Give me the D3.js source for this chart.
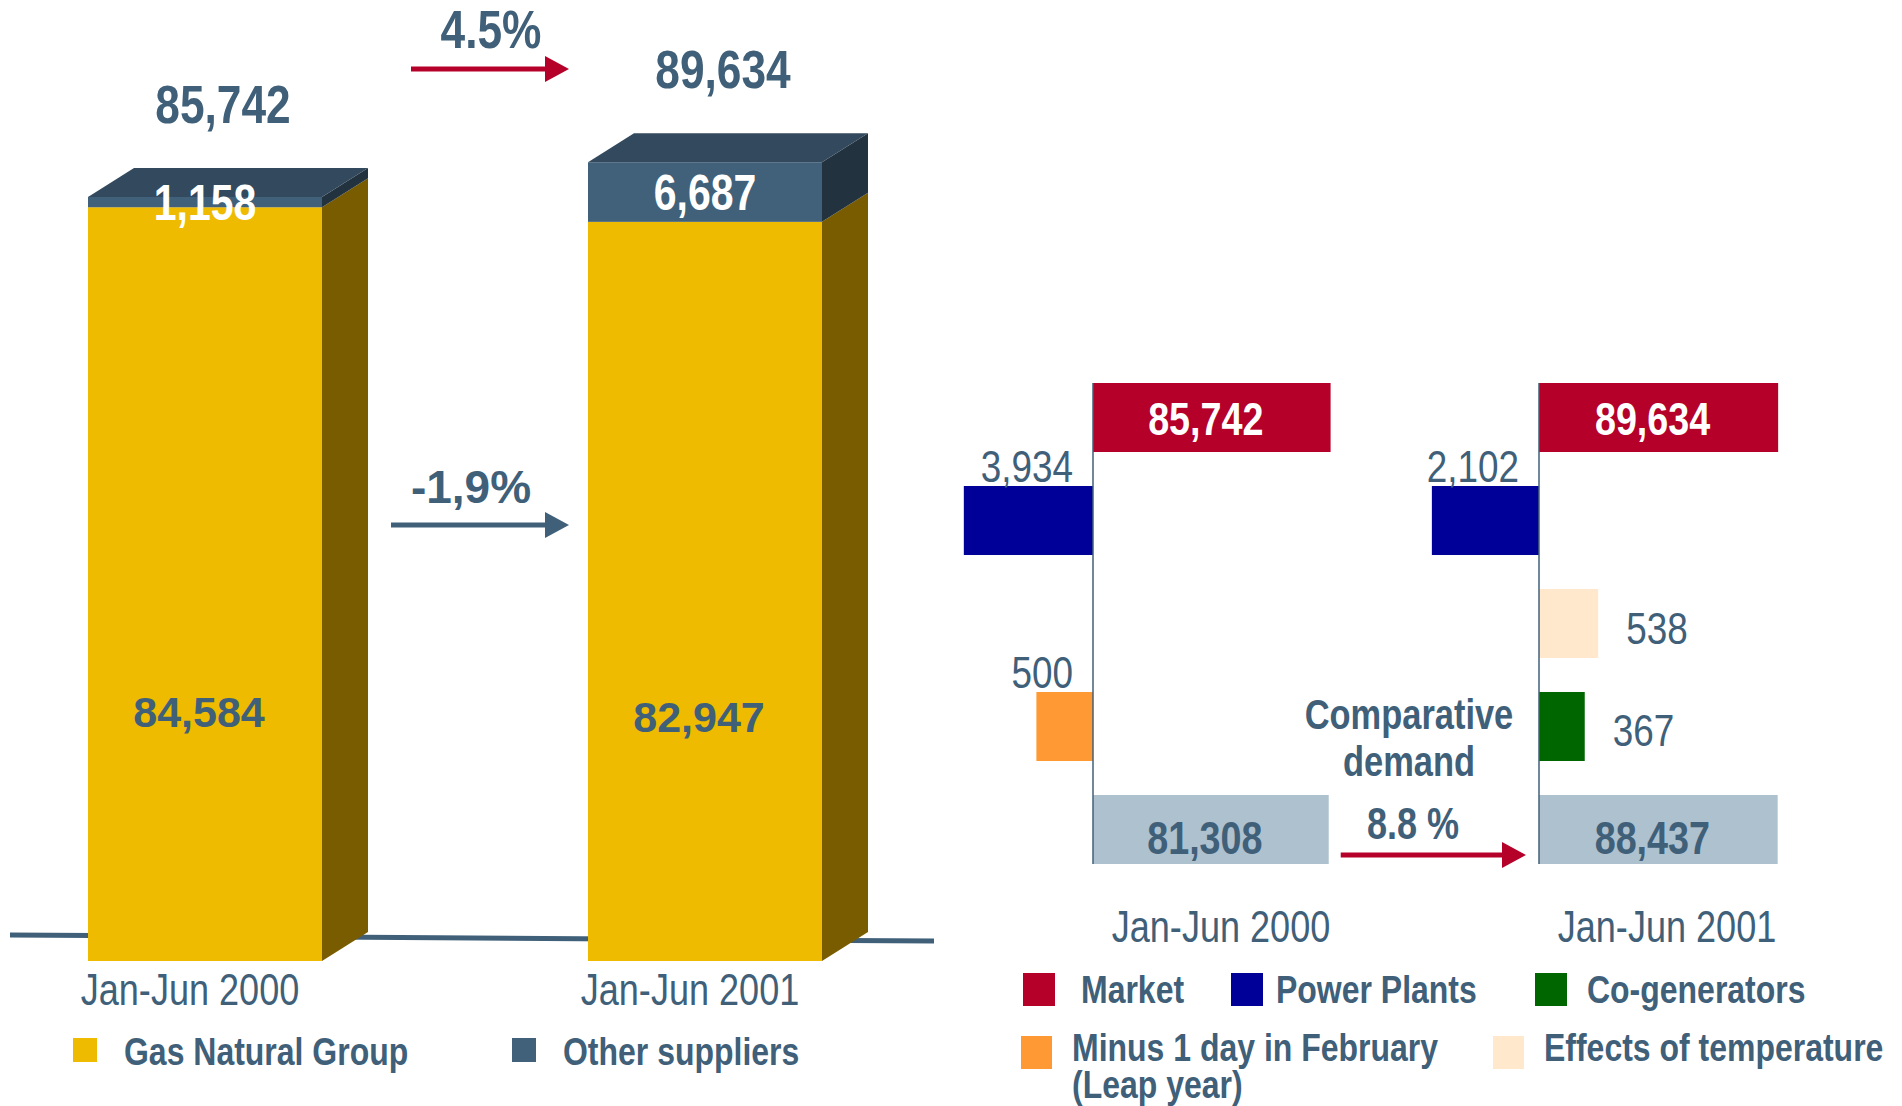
<!DOCTYPE html>
<html>
<head>
<meta charset="utf-8">
<script src="https://cdn.jsdelivr.net/npm/d3@7"></script>
<style>
  body { margin: 0; background: #fff; }
</style>
</head>
<body>
<svg id="chart" width="1902" height="1106"></svg>
<script>
// ---- data ----
const periods = ['Jan-Jun 2000', 'Jan-Jun 2001'];
const gasNatural = [84584, 82947];
const otherSuppliers = [1158, 6687];
const totals = [85742, 89634];
const totalGrowth = '4.5%';
const gasGrowth = '-1,9%';

const demandKeys2000 = ['market', 'power', 'leap', 'comparative'];
const demandValues2000 = [85742, -3934, -500, 81308];
const demandKeys2001 = ['market', 'power', 'temperature', 'cogen', 'comparative'];
const demandValues2001 = [89634, -2102, 538, 367, 88437];
const comparativeGrowth = '8.8 %';

const supplyLegend = ['Gas Natural Group', 'Other suppliers'];
const demandLegend1 = ['Market', 'Power Plants', 'Co-generators'];
const demandLegend2 = ['Minus 1 day in February', 'Effects of temperature'];

// ---- style ----
const slate = '#406079';
const colors = {
  market: '#b5002a', power: '#000099', cogen: '#006600',
  leap: '#ff9933', temperature: '#ffe8cc', comparative: '#aec1cf'
};

const svg = d3.select('#chart');

// narrow font: use Liberation Sans Narrow if present, otherwise squeeze
function hasFont(name) {
  const c = document.createElement('canvas').getContext('2d');
  c.font = '40px monospace';
  const a = c.measureText('Jan-Jun 2000 mwi').width;
  c.font = `40px "${name}", monospace`;
  const b = c.measureText('Jan-Jun 2000 mwi').width;
  return a !== b;
}
const NARROW = hasFont('Liberation Sans Narrow');

function label(g, str, x, y, size, opts = {}) {
  const narrow = opts.narrow !== false;
  const sx = narrow && !NARROW ? 0.82 : 1;
  return g.append('text')
    .attr('transform', `translate(${x},${y}) scale(${sx},1)`)
    .attr('font-family', narrow && NARROW ? '"Liberation Sans Narrow", sans-serif' : '"Liberation Sans", Arial, sans-serif')
    .attr('font-size', size)
    .attr('font-weight', opts.bold ? 'bold' : 'normal')
    .attr('text-anchor', opts.anchor || 'middle')
    .attr('fill', opts.fill || slate)
    .text(str);
}

function arrow(g, x1, x2, y, color) {
  g.append('line')
    .attr('x1', x1).attr('x2', x2 - 20).attr('y1', y).attr('y2', y)
    .attr('stroke', color).attr('stroke-width', 5);
  g.append('path')
    .attr('d', `M${x2 - 24},${y - 13} L${x2},${y} L${x2 - 24},${y + 13} Z`)
    .attr('fill', color);
}

// ---- left: supply bars ----
const left = svg.append('g');
const xL = d3.scalePoint().domain(periods).range([205, 705]);
const yL = d3.scaleLinear().domain([0, 90000]).range([961, 159]);
const bw = 234, dx = 46, dy = 29;

left.append('line')
  .attr('x1', 10).attr('y1', 935).attr('x2', 934).attr('y2', 941)
  .attr('stroke', slate).attr('stroke-width', 5);

periods.forEach((p, i) => {
  const x0 = xL(p) - bw / 2;
  const segs = [
    { lo: 0, hi: gasNatural[i], front: '#eebb00', side: '#7a5c00' },
    { lo: gasNatural[i], hi: totals[i], front: '#406179', side: '#22333f' }
  ];
  segs.forEach(s => {
    const yt = yL(s.hi), yb = yL(s.lo);
    left.append('rect')
      .attr('x', x0).attr('y', yt).attr('width', bw).attr('height', yb - yt)
      .attr('fill', s.front);
    left.append('path')
      .attr('d', `M${x0 + bw},${yt} L${x0 + bw + dx},${yt - dy} L${x0 + bw + dx},${yb - dy} L${x0 + bw},${yb} Z`)
      .attr('fill', s.side);
  });
  const yTop = yL(totals[i]);
  left.append('path')
    .attr('d', `M${x0},${yTop} L${x0 + dx},${yTop - dy} L${x0 + bw + dx},${yTop - dy} L${x0 + bw},${yTop} Z`)
    .attr('fill', '#33495d');

  // labels
  label(left, d3.format(',')(totals[i]), xL(p) + 18, yTop - dy - 45, 54, { bold: true });
  const yGas = yL(gasNatural[i]);
  label(left, d3.format(',')(otherSuppliers[i]), xL(p), (yTop + yGas) / 2 + 18, 50, { bold: true, fill: '#fff' });
  label(left, d3.format(',')(gasNatural[i]), xL(p) - 6, yL(0) - 0.33 * (yL(0) - yGas) + 15, 43, { bold: true, narrow: false });
  label(left, p, xL(p) - 15, 1005, 44);
});

// growth arrows between the bars
const gapEnd = xL(periods[1]) - bw / 2 - 19;
label(left, totalGrowth, 491, 48, 54, { bold: true });
arrow(left, 411, gapEnd, 69, '#b5002a');
label(left, gasGrowth, 471, 503, 46, { bold: true, narrow: false });
arrow(left, 391, gapEnd, 525, slate);

// left legend
const legL = left.append('g');
[{ c: '#eebb00', x: 73, t: supplyLegend[0] }, { c: '#406179', x: 512, t: supplyLegend[1] }].forEach(d => {
  legL.append('rect').attr('x', d.x).attr('y', 1038).attr('width', 24).attr('height', 24).attr('fill', d.c);
  label(legL, d.t, d.x + 51, 1065, 39, { bold: true, anchor: 'start' });
});

// ---- right: demand breakdown ----
const right = svg.append('g');
const rowOf = { market: 'market', power: 'power', temperature: 'temperature', leap: 'adjust', cogen: 'adjust', comparative: 'comparative' };
const yR = d3.scaleBand()
  .domain(['market', 'power', 'temperature', 'adjust', 'comparative'])
  .range([383, 864]).paddingInner(0.33);
const wR = d3.scaleLog().domain([100, 100000]).range([0, 243]);
const axisX = [1093, 1539];

const groups = [
  { keys: demandKeys2000, values: demandValues2000 },
  { keys: demandKeys2001, values: demandValues2001 }
];

groups.forEach((grp, gi) => {
  const ax = axisX[gi];
  const g = right.append('g');
  grp.keys.forEach((k, j) => {
    const v = grp.values[j];
    const w = wR(Math.abs(v));
    const y = yR(rowOf[k]);
    const h = yR.bandwidth();
    const x = v < 0 ? ax - w : ax;
    g.append('rect').attr('x', x).attr('y', y).attr('width', w).attr('height', h).attr('fill', colors[k]);
    const txt = d3.format(',')(Math.abs(v));
    if (k === 'market') {
      label(g, txt, x + w / 2 - 6, y + h / 2 + 17, 46, { bold: true, fill: '#fff' });
    } else if (k === 'comparative') {
      label(g, txt, x + w / 2 - 6, y + h - 10, 46, { bold: true });
    } else if (v < 0) {
      label(g, txt, ax - 20, y - 4, 45, { anchor: 'end' });
    } else {
      label(g, txt, x + w + 28, y + h / 2 + 20, 45, { anchor: 'start' });
    }
  });
  g.append('line')
    .attr('x1', ax).attr('x2', ax).attr('y1', yR.range()[0]).attr('y2', yR.range()[1])
    .attr('stroke', slate).attr('stroke-width', 1.5);
  label(g, periods[gi], ax + 128, 942, 44);
});

// comparative demand note
const compRight = axisX[0] + wR(demandValues2000[3]);
label(right, 'Comparative', axisX[1] - 130, 729, 42, { bold: true });
label(right, 'demand', axisX[1] - 130, 776, 42, { bold: true });
label(right, comparativeGrowth, axisX[1] - 126, 839, 44, { bold: true });
arrow(right, compRight + 12, axisX[1] - 13, 855, '#b5002a');

// right legend
const legR = right.append('g');
const row1 = [
  { c: colors.market, x: 1023, t: demandLegend1[0] },
  { c: colors.power, x: 1231, t: demandLegend1[1] },
  { c: colors.cogen, x: 1535, t: demandLegend1[2] }
];
row1.forEach((d, i) => {
  legR.append('rect').attr('x', d.x).attr('y', 973).attr('width', 32).attr('height', 33).attr('fill', d.c);
  label(legR, d.t, d.x + (i === 0 ? 58 : i === 1 ? 45 : 52), 1003, 39, { bold: true, anchor: 'start' });
});
const row2 = [
  { c: colors.leap, x: 1021, t: demandLegend2[0] },
  { c: colors.temperature, x: 1493, t: demandLegend2[1] }
];
row2.forEach(d => {
  legR.append('rect').attr('x', d.x).attr('y', 1036).attr('width', 31).attr('height', 33).attr('fill', d.c);
  label(legR, d.t, d.x + 51, 1061, 39, { bold: true, anchor: 'start' });
});
label(legR, '(Leap year)', 1072, 1098, 39, { bold: true, anchor: 'start' });
</script>
</body>
</html>
